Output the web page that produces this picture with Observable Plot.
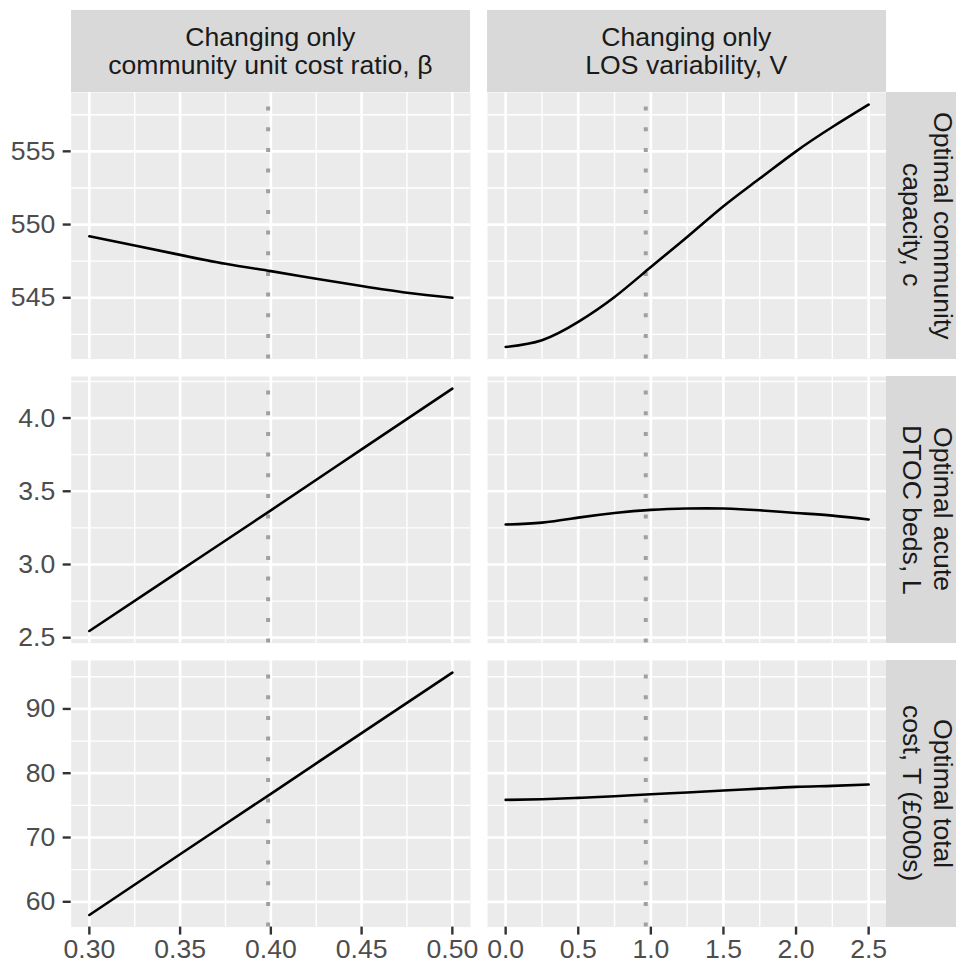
<!DOCTYPE html>
<html><head><meta charset="utf-8">
<script src="https://cdn.jsdelivr.net/npm/d3@7"></script>
<script src="https://cdn.jsdelivr.net/npm/@observablehq/plot@0.6"></script>
<style>
body{margin:0;background:#fff;}
#chart{position:relative;width:956px;height:965px;overflow:hidden;font-family:"Liberation Sans",Arial,sans-serif;}
.cell{position:absolute;}
.cell svg{overflow:visible;}
.strip{position:absolute;background:#D9D9D9;color:#1A1A1A;font-size:26.6px;line-height:28.5px;display:flex;align-items:center;justify-content:center;text-align:center;}
.strip span.v{writing-mode:vertical-rl;line-height:31px;margin-left:11px;}
</style></head>
<body><div id="chart"></div>
<script>
// ---- data ----
const colLabels = [["Changing only", "community unit cost ratio, β"], ["Changing only", "LOS variability, V"]];
const rowLabels = [["Optimal community", "capacity, c"], ["Optimal acute", "DTOC beds, L"], ["Optimal total", "cost, T (£000s)"]];

const betaX = [0.30, 0.325, 0.35, 0.375, 0.40, 0.425, 0.45, 0.475, 0.50];
const betaCapacity = [549.2, 548.57, 547.93, 547.32, 546.82, 546.3, 545.8, 545.34, 545.0];
const betaX5 = [0.30, 0.35, 0.40, 0.45, 0.50];
const betaDTOC = [2.546, 2.958, 3.37, 3.786, 4.201];
const betaCost = [57.95, 67.4, 76.8, 86.25, 95.65];

const vX = [0, 0.25, 0.5, 0.75, 1.0, 1.25, 1.5, 1.75, 2.0, 2.25, 2.5];
const vCapacity = [541.64, 542.1, 543.35, 545.05, 547.1, 549.15, 551.25, 553.14, 555.0, 556.66, 558.19];
const vDTOC = [3.273, 3.286, 3.320, 3.352, 3.373, 3.382, 3.382, 3.370, 3.352, 3.334, 3.307];
const vCost = [75.85, 75.96, 76.17, 76.42, 76.74, 77.0, 77.31, 77.6, 77.88, 78.03, 78.24];

const baseline = [0.3985, 0.965];

const xTicks = [[0.30, 0.35, 0.40, 0.45, 0.50], [0, 0.5, 1.0, 1.5, 2.0, 2.5]];
const xMinor = [[0.325, 0.375, 0.425, 0.475], [0.25, 0.75, 1.25, 1.75, 2.25]];
const xFormats = [".2f", ".1f"];
const yTicks = [[545, 550, 555], [2.5, 3.0, 3.5, 4.0], [60, 70, 80, 90]];
const yMinor = [[542.5, 547.5, 552.5, 557.5], [2.75, 3.25, 3.75, 4.25], [65, 75, 85, 95]];
const yFormats = ["d", ".1f", "d"];

const series = [
  [betaX.map((x, i) => ({x, y: betaCapacity[i]})), vX.map((x, i) => ({x, y: vCapacity[i]}))],
  [betaX5.map((x, i) => ({x, y: betaDTOC[i]})), vX.map((x, i) => ({x, y: vDTOC[i]}))],
  [betaX5.map((x, i) => ({x, y: betaCost[i]})), vX.map((x, i) => ({x, y: vCost[i]}))]
];

// ---- layout ----
const colX = [70.7, 486.7], panelW = 399.3;
const rowY = [92, 376, 660], panelH = 266.6;
const stripTop = 10, stripH = 82, rStripX = 886, rStripW = 70;
const bottomM = 38.3;

function expand(vals, k = 0.05) {
  const [a, b] = d3.extent(vals);
  const p = (b - a) * k;
  return [a - p, b + p];
}
const xDomains = [0, 1].map(c => expand(series.flatMap(r => r[c].map(d => d.x))));
const yDomains = series.map(r => expand(r.flatMap(s => s.map(d => d.y))));

const chart = document.getElementById("chart");
const dashA = 4, dashB = 16.67, P = dashA + dashB;
const dashOff = (((dashA - panelH) % P) + P) % P;

for (let r = 0; r < 3; r++) {
  for (let c = 0; c < 2; c++) {
    const showY = c === 0, showX = r === 2;
    const ml = showY ? colX[0] : 0;
    const mb = showX ? bottomM : 0;
    const svg = Plot.plot({
      width: panelW + ml,
      height: panelH + mb,
      marginLeft: ml, marginRight: 0, marginTop: 0, marginBottom: mb,
      x: {domain: xDomains[c], axis: null},
      y: {domain: yDomains[r], axis: null},
      style: {fontFamily: "'Liberation Sans', Arial, sans-serif", fontSize: "26.6px", background: "transparent", overflow: "visible"},
      marks: [
        Plot.frame({fill: "#EBEBEB", stroke: null}),
        Plot.ruleX(xMinor[c], {stroke: "#FFFFFF", strokeWidth: 1.4}),
        Plot.ruleY(yMinor[r], {stroke: "#FFFFFF", strokeWidth: 1.4}),
        Plot.ruleX(xTicks[c], {stroke: "#FFFFFF", strokeWidth: 2.7}),
        Plot.ruleY(yTicks[r], {stroke: "#FFFFFF", strokeWidth: 2.7}),
        Plot.ruleX([baseline[c]], {stroke: "#A0A0A0", strokeWidth: 4, strokeDasharray: `${dashA},${dashB}`, strokeDashoffset: dashOff}),
        Plot.line(series[r][c], {x: "x", y: "y", curve: "natural", stroke: "#000000", strokeWidth: 2.6}),
        showY ? Plot.axisY({ticks: yTicks[r], tickFormat: d3.format(yFormats[r]), tickSize: 8, tickPadding: 8, label: null, fill: "#4D4D4D", stroke: "#333333", strokeWidth: 2.4, fontSize: 26.6}) : null,
        showX ? Plot.axisX({ticks: xTicks[c], tickFormat: d3.format(xFormats[c]), tickSize: 8, tickPadding: 4, label: null, fill: "#4D4D4D", stroke: "#333333", strokeWidth: 2.4, fontSize: 26.6}) : null
      ]
    });
    const cell = document.createElement("div");
    cell.className = "cell";
    cell.style.left = (colX[c] - ml) + "px";
    cell.style.top = rowY[r] + "px";
    cell.appendChild(svg);
    chart.appendChild(cell);
  }
}

colLabels.forEach((lines, c) => {
  const d = document.createElement("div");
  d.className = "strip";
  Object.assign(d.style, {left: colX[c] + "px", top: stripTop + "px", width: panelW + "px", height: stripH + "px"});
  const s = document.createElement("span");
  s.innerHTML = lines.join("<br>");
  d.appendChild(s);
  chart.appendChild(d);
});
rowLabels.forEach((lines, r) => {
  const d = document.createElement("div");
  d.className = "strip";
  Object.assign(d.style, {left: rStripX + "px", top: rowY[r] + "px", width: rStripW + "px", height: panelH + "px"});
  const s = document.createElement("span");
  s.className = "v";
  s.innerHTML = lines.join("<br>");
  d.appendChild(s);
  chart.appendChild(d);
});
</script>
</body></html>
